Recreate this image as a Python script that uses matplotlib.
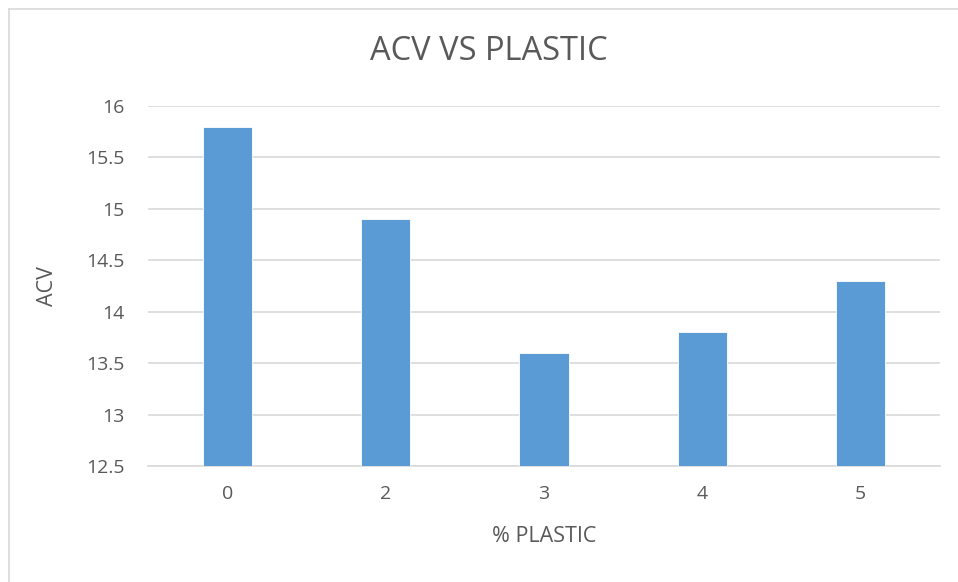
import matplotlib
matplotlib.use("Agg")
import matplotlib.pyplot as plt
from matplotlib.lines import Line2D

categories = ["0", "2", "3", "4", "5"]
acv_values = [15.8, 14.9, 13.6, 13.8, 14.3]
y_ticks = [12.5, 13, 13.5, 14, 14.5, 15, 15.5, 16]
y_tick_labels = ["12.5", "13", "13.5", "14", "14.5", "15", "15.5", "16"]

W, H = 958, 582
fig = plt.figure(figsize=(W / 100, H / 100), dpi=100)
plt.rcParams["font.family"] = ["Open Sans", "DejaVu Sans"]

text_color = "#595959"
grid_color = "#D9D9D9"
bar_color = "#5B9BD5"

# chart frame
fig.add_artist(Line2D([9 / W, 9 / W], [0, 1 - 9 / H], transform=fig.transFigure,
                      color=grid_color, lw=1.2))
fig.add_artist(Line2D([9 / W, 1], [1 - 9 / H, 1 - 9 / H], transform=fig.transFigure,
                      color=grid_color, lw=1.2))

ax = fig.add_axes([148 / W, 1 - 466 / H, (940 - 148) / W, (466 - 106) / H])
x = list(range(len(categories)))
ax.bar(x, [v - 12.5 for v in acv_values], bottom=12.5, width=0.31,
       color=bar_color, edgecolor="white", linewidth=0.6, zorder=3)
ax.set_xlim(-0.5, len(categories) - 0.5)
ax.set_ylim(12.5, 16)
ax.set_yticks(y_ticks)
ax.set_yticklabels(y_tick_labels)
ax.set_xticks(x)
ax.set_xticklabels(categories)
ax.yaxis.grid(True, color=grid_color, lw=1.2, zorder=0)
for s in ["top", "right", "left"]:
    ax.spines[s].set_visible(False)
ax.spines["bottom"].set_color(grid_color)
ax.spines["bottom"].set_linewidth(1.2)
ax.tick_params(axis="both", length=0, labelsize=14, colors=text_color)
ax.tick_params(axis="y", pad=17)
ax.tick_params(axis="x", pad=14)

fig.text(489 / W, 1 - 52 / H, "ACV VS PLASTIC", fontsize=23.5, color=text_color,
         ha="center", va="center")
ax.set_xlabel("% PLASTIC", fontsize=15.5, color=text_color, labelpad=16)
ax.set_ylabel("ACV", fontsize=15.5, color=text_color, labelpad=20)

fig.savefig("out.png", dpi=100, facecolor="white")
